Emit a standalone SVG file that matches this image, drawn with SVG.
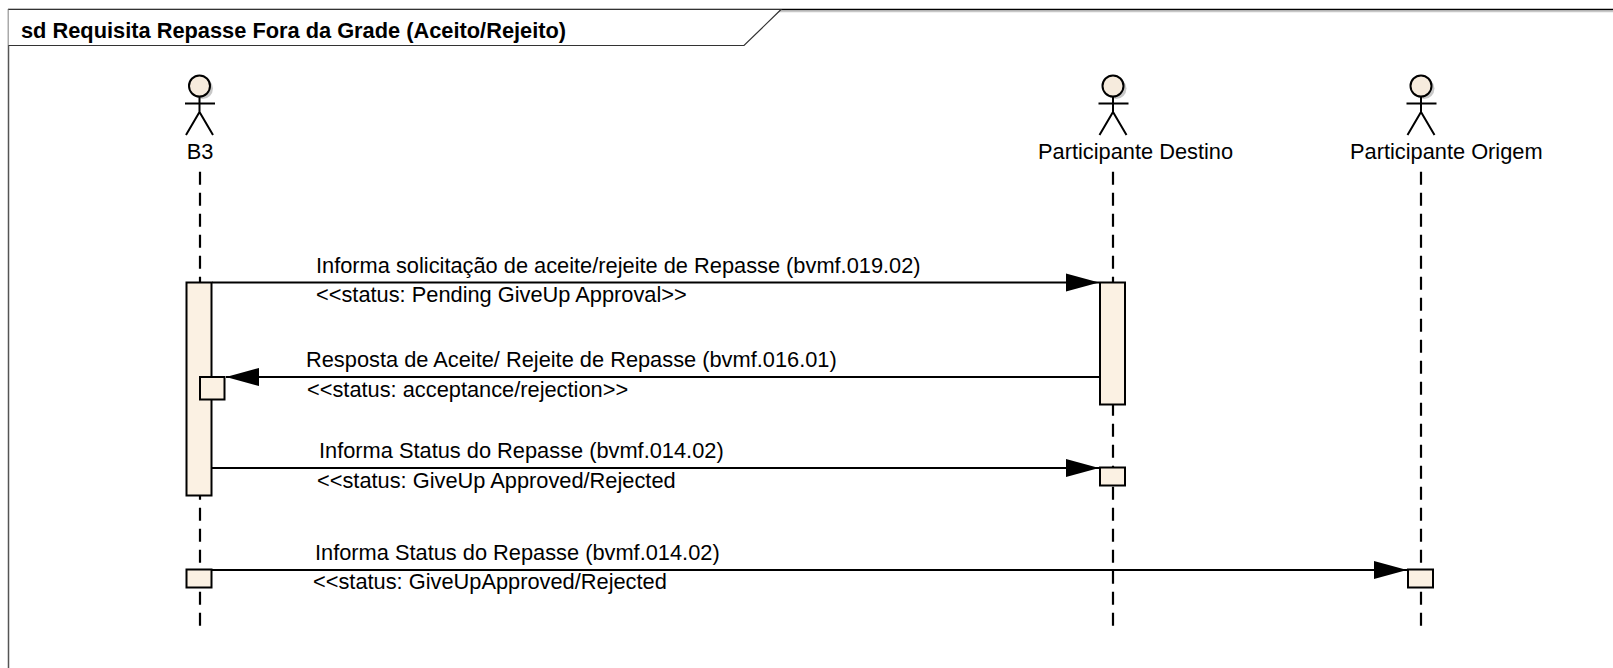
<svg xmlns="http://www.w3.org/2000/svg" width="1613" height="668" viewBox="0 0 1613 668">
<defs>
<style>
text{font-family:"Liberation Sans",Arial,sans-serif;font-size:21.8px;fill:#000}
.title{font-weight:bold}
.life{stroke:#000;stroke-width:2.2;stroke-dasharray:13 8;fill:none}
.act{fill:#FBF1E3;stroke:#000;stroke-width:2}
.msg{stroke:#000;stroke-width:2;fill:none}
.stick{stroke:#000;stroke-width:2;fill:none}
.head{fill:#F6EBDD;stroke:#000;stroke-width:2}
.shadow{fill:#C8C8C8}
</style>
<marker id="ah" markerUnits="userSpaceOnUse" markerWidth="35" markerHeight="20" refX="34" refY="10" orient="auto">
<path d="M1,1 L34,10 L1,19 Z" fill="#000"/>
</marker>
</defs>
<rect width="1613" height="668" fill="#fff"/>
<g id="frame">
<line x1="8" y1="11.5" x2="1613" y2="11.5" stroke="#C8C8C8" stroke-width="1.5"/>
<line x1="8" y1="9.5" x2="1613" y2="9.5" stroke="#000" stroke-width="1.5"/>
<line x1="8.5" y1="9" x2="8.5" y2="668" stroke="#555" stroke-width="1.5"/>
<path d="M8.5,9.5 H781 L744,45.5 H8.5" fill="#fff" stroke="#333" stroke-width="1.2"/>
<text class="title" x="21" y="37.5">sd Requisita Repasse Fora da Grade (Aceito/Rejeito)</text>
</g>
<g id="B3">
<line class="life" x1="200" y1="171.7" x2="200" y2="626"/>
<circle class="shadow" cx="202.5" cy="88.5" r="10.5"/>
<circle class="head" cx="199.5" cy="86" r="10.5"/>
<path class="stick" d="M199.5,96.5 V112 M185,103.5 H215 M186,135 L199.5,112 L213,135"/>
<text x="200" y="158.5" text-anchor="middle">B3</text>
</g>
<g id="ParticipanteDestino">
<line class="life" x1="1113" y1="171.7" x2="1113" y2="626"/>
<circle class="shadow" cx="1116" cy="88.5" r="10.5"/>
<circle class="head" cx="1113" cy="86" r="10.5"/>
<path class="stick" d="M1113,96.5 V112 M1098.5,103.5 H1128.5 M1099.5,135 L1113,112 L1126.5,135"/>
<text x="1038" y="158.5">Participante Destino</text>
</g>
<g id="ParticipanteOrigem">
<line class="life" x1="1421" y1="171.7" x2="1421" y2="626"/>
<circle class="shadow" cx="1424" cy="88.5" r="10.5"/>
<circle class="head" cx="1421" cy="86" r="10.5"/>
<path class="stick" d="M1421,96.5 V112 M1406.5,103.5 H1436.5 M1407.5,135 L1421,112 L1434.5,135"/>
<text x="1350" y="158.5">Participante Origem</text>
</g>
<g id="activations">
<rect class="act" x="186.5" y="282.5" width="25" height="213"/>
<rect class="act" x="200" y="377" width="24.5" height="22.5"/>
<rect class="act" x="1100" y="282.5" width="25" height="122"/>
<rect class="act" x="1100" y="467.5" width="25" height="18"/>
<rect class="act" x="186.5" y="569.5" width="25" height="18"/>
<rect class="act" x="1408" y="569.5" width="25" height="18"/>
</g>
<g id="connectors">
<line class="msg" x1="212" y1="282.5" x2="1099" y2="282.5" marker-end="url(#ah)"/>
<line class="msg" x1="1100" y1="377" x2="226" y2="377" marker-end="url(#ah)"/>
<line class="msg" x1="212" y1="468" x2="1099" y2="468" marker-end="url(#ah)"/>
<line class="msg" x1="212" y1="570" x2="1407" y2="570" marker-end="url(#ah)"/>
</g>
<g id="labels">
<text x="316" y="273">Informa solicitação de aceite/rejeite de Repasse (bvmf.019.02)</text>
<text x="316" y="302">&lt;&lt;status: Pending GiveUp Approval&gt;&gt;</text>
<text x="306" y="367">Resposta de Aceite/ Rejeite de Repasse (bvmf.016.01)</text>
<text x="307" y="397">&lt;&lt;status: acceptance/rejection&gt;&gt;</text>
<text x="319" y="458">Informa Status do Repasse (bvmf.014.02)</text>
<text x="317" y="488">&lt;&lt;status: GiveUp Approved/Rejected</text>
<text x="315" y="560">Informa Status do Repasse (bvmf.014.02)</text>
<text x="313" y="589">&lt;&lt;status: GiveUpApproved/Rejected</text>
</g>
</svg>
